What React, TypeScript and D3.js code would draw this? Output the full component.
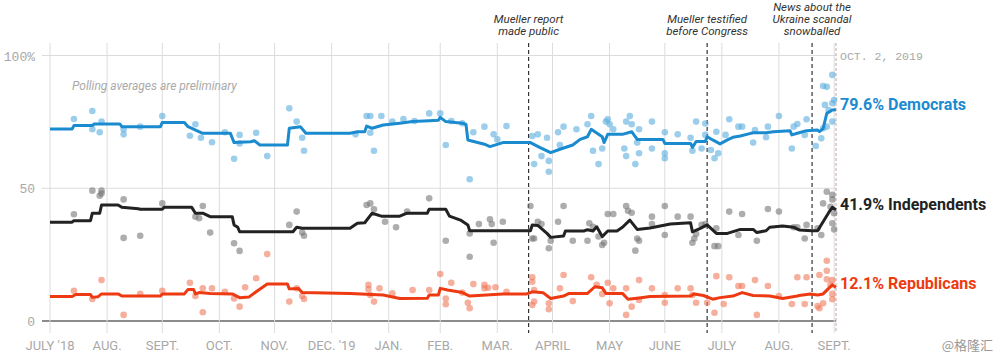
import React from "react";
import * as d3 from "d3";

// ---- DATA ----
// Day offsets counted from START (Aug 1, 2018); values in percent.
const START = new Date(2018, 7, 1);
const END = new Date(2019, 9, 2);

const monthLabels = ["JULY '18", "AUG.", "SEPT.", "OCT.", "NOV.", "DEC. '19", "JAN.", "FEB.", "MAR.", "APRIL", "MAY", "JUNE", "JULY", "AUG.", "SEPT."];
const yTicks = [0, 50, 100];
const yTickLabels = ["0", "50", "100%"];

const events = [
  { day: 260, lines: ["Mueller report", "made public"] },
  { day: 357, lines: ["Mueller testified", "before Congress"] },
  { day: 414, lines: ["News about the", "Ukraine scandal", "snowballed"] },
];

const demLine: [number, number][] = [
  [0, 72.3], [12, 72.3], [13, 73.6], [23, 73.6], [24, 74.2], [38, 74.2], [39, 73.2], [60, 73.2], [61, 74.8], [73, 74.8],
  [75, 73.2], [83, 70.7], [98, 70.7], [100, 67.2], [109, 67.5], [111, 67.9], [114, 66.3], [129, 66.3], [130, 72.6], [136, 73.2],
  [139, 70.7], [163, 70.7], [167, 71.3], [171, 71.3], [172, 73.4], [175, 72.6], [181, 73.8], [190, 74.5], [197, 75.1], [206, 75.4],
  [211, 75.6], [212, 76.7], [215, 75.1], [224, 74.5], [226, 74.0], [227, 68.2], [236, 66.6], [239, 65.7], [246, 67.2], [261, 67.2],
  [266, 65.4], [272, 63.4], [277, 64.7], [284, 66.3], [288, 68.4], [292, 69.4], [294, 72.2], [300, 69.4], [301, 67.2], [303, 70.3],
  [311, 70.3], [316, 71.3], [319, 68.4], [333, 68.4], [334, 66.9], [348, 66.9], [349, 65.4], [351, 67.6], [356, 67.6], [357, 69.4],
  [360, 68.2], [364, 66.7], [368, 68.2], [371, 69.2], [375, 69.7], [379, 70.4], [382, 70.9], [389, 70.9], [393, 71.3], [402, 71.7],
  [403, 70.1], [406, 70.7], [411, 71.7], [417, 71.9], [418, 71.3], [420, 72.5], [422, 78.2], [425, 79.5], [427, 79.6],
];

const indLine: [number, number][] = [
  [0, 37.2], [12, 37.2], [13, 37.8], [22, 37.8], [23, 40.6], [27, 40.6], [28, 43.7], [37, 43.7], [39, 42.8], [48, 42.3],
  [49, 42.1], [61, 42.1], [62, 42.8], [77, 42.8], [79, 40.6], [83, 40.6], [87, 39.3], [99, 39.3], [100, 36.2], [102, 35.3],
  [103, 33.6], [132, 33.6], [134, 35.3], [137, 34.9], [163, 34.9], [167, 36.8], [171, 37.0], [175, 40.6], [180, 39.5], [190, 39.5],
  [194, 40.6], [205, 40.6], [206, 42.1], [215, 42.1], [217, 39.5], [223, 38], [227, 36.2], [228, 34], [261, 34], [262, 36.2],
  [265, 36], [270, 33], [272, 31.5], [279, 32], [280, 33.9], [290, 33.9], [292, 34.4], [295, 33.9], [297, 35.5], [300, 31.8],
  [303, 33.9], [308, 33.9], [311, 35.3], [315, 38], [319, 34.5], [326, 35.0], [337, 36.5], [348, 37], [349, 33.6], [353, 34.8],
  [357, 36.2], [362, 33], [368, 33], [375, 34.5], [382, 34.5], [384, 33.3], [389, 34], [391, 35.3], [398, 35.8], [404, 35.3],
  [407, 34.3], [414, 34], [417, 34], [420, 37.4], [423, 40.8], [425, 42.8], [427, 41.9],
];

const repLine: [number, number][] = [
  [0, 9.2], [12, 9.2], [14, 10.0], [22, 10.0], [23, 8.9], [26, 9.1], [28, 10.2], [37, 10.2], [39, 9.4], [60, 9.4],
  [61, 10.2], [73, 10.2], [75, 11.9], [78, 11.9], [79, 10.2], [81, 10.7], [87, 10.4], [99, 10.2], [103, 8.8], [108, 9.0],
  [112, 11], [118, 13.9], [129, 13.9], [130, 12.1], [135, 12.2], [137, 10.7], [163, 10.4], [181, 9.8], [190, 8.5], [205, 8.6],
  [206, 9.8], [211, 9.8], [212, 12.3], [216, 11.7], [224, 10.7], [228, 9.4], [246, 10.2], [259, 10.2], [262, 11], [268, 10.6],
  [272, 8.5], [279, 9.4], [282, 10.4], [292, 10.4], [296, 12.9], [300, 12.5], [302, 10.4], [311, 10.4], [314, 8.2], [320, 8.7],
  [326, 9.2], [348, 9.4], [350, 10.2], [355, 9.6], [360, 8.2], [364, 8.8], [371, 9.4], [376, 10.7], [382, 9.6], [391, 9.4],
  [398, 8.5], [406, 9.4], [407, 9.6], [413, 10.2], [417, 9.8], [420, 10.2], [423, 12.3], [425, 13.6], [427, 12.6],
];

const demPolls: [number, number][] = [
  [13, 76.1], [23, 79.1], [23, 72.2], [27, 71.1], [28, 75.1], [40, 72.2], [40, 70.3], [49, 73.2], [61, 77.2], [79, 74.1],
  [76, 69.8], [82, 69], [88, 67.3], [95, 71.1], [103, 70.1], [100, 61.1], [103, 66.9], [112, 70.9], [118, 62.1], [130, 80.1],
  [134, 75.1], [137, 69], [138, 64.1], [166, 70.3], [172, 77.2], [174, 77.2], [174, 70.9], [180, 77.2], [176, 64.1], [186, 75.1],
  [192, 76.1], [198, 75.3], [206, 78.2], [212, 78.2], [215, 66.3], [218, 75.3], [224, 74.5], [228, 53.4], [230, 71.1], [236, 73.2],
  [241, 70.3], [243, 68.4], [248, 73.4], [262, 69.7], [265, 70.3], [263, 59.1], [267, 62.1], [270, 69], [271, 60.3], [271, 56.2],
  [276, 71.1], [279, 73.2], [277, 66.3], [286, 72.2], [292, 74.1], [294, 77.2], [295, 64.1], [298, 59.1], [300, 65], [302, 75.1],
  [303, 76], [304, 74.1], [306, 72.2], [312, 65], [313, 62.1], [313, 75.1], [315, 77.2], [316, 74.1], [318, 59.1], [319, 67.2],
  [320, 72.2], [320, 63.2], [327, 75.1], [327, 65], [334, 71.1], [334, 63.2], [334, 61.3], [341, 70.3], [348, 69], [349, 64.1],
  [351, 75.1], [354, 65], [356, 74.4], [356, 70.1], [359, 64.4], [361, 61.3], [362, 71.3], [363, 63.2], [367, 70.1], [369, 76],
  [374, 73.2], [376, 73.2], [382, 67.2], [383, 71.9], [389, 69.2], [390, 73.2], [396, 77.2], [403, 65], [404, 73.2], [406, 74.2],
  [410, 70.1], [411, 76], [416, 65.9], [419, 68.8], [420, 72.6], [421, 81.4], [422, 88.2], [420, 88.5], [425, 92.7], [425, 82],
  [425, 75.1], [426, 83.2], [423, 79.5], [422, 73.2],
];

const indPolls: [number, number][] = [
  [13, 40.2], [23, 49.1], [27, 47.2], [28, 49.1], [28, 48], [40, 45.8], [40, 31.3], [49, 32.1], [61, 44.3], [79, 39.3],
  [81, 38.7], [83, 43.3], [87, 33.3], [100, 29.3], [103, 26.4], [130, 36.2], [134, 41.2], [137, 33.3], [138, 32.1], [172, 43.7],
  [174, 44.3], [176, 42.1], [182, 37.4], [188, 35.3], [194, 41.2], [206, 46.2], [215, 30.2], [228, 33], [228, 24.2], [233, 36.5],
  [239, 38.3], [240, 36.5], [241, 29.5], [246, 37.4], [261, 43.3], [262, 31.1], [263, 31.1], [265, 37.4], [267, 36.5], [271, 27.4],
  [272, 30.2], [276, 37.4], [279, 43.3], [284, 30.2], [292, 30.2], [293, 36.8], [295, 35.5], [298, 31.8], [300, 28.6], [301, 29.5],
  [303, 40.3], [306, 40.3], [313, 43.3], [314, 41.5], [316, 40.8], [318, 26.5], [319, 31.1], [320, 30.2], [327, 39.3], [327, 36.5],
  [334, 43.3], [334, 32.4], [341, 39.3], [348, 39.3], [349, 29.5], [350, 31.1], [351, 32.8], [354, 36.2], [356, 36.5], [361, 28.2],
  [363, 28.2], [362, 34.9], [369, 41.2], [374, 32.4], [376, 40.3], [384, 30.2], [390, 42.2], [396, 41.2], [404, 35.3], [406, 35.3],
  [410, 31.1], [411, 36.2], [417, 34.9], [419, 32.4], [420, 44.3], [422, 48.7], [425, 45.8], [425, 47.5], [425, 36.8], [426, 34.5],
  [426, 40.6], [424, 43],
];

const repPolls: [number, number][] = [
  [13, 11.4], [23, 8.3], [28, 15.4], [40, 2.3], [49, 10.2], [61, 11.4], [76, 14.4], [79, 9.4], [83, 12.3], [83, 3.3],
  [88, 12.3], [95, 11], [100, 8.5], [103, 5.4], [106, 12.7], [112, 16.1], [118, 25.2], [130, 7.3], [134, 12.3], [137, 9.4],
  [138, 8.3], [173, 13.6], [173, 12.0], [174, 9.8], [176, 7.3], [179, 12.3], [186, 10.4], [197, 11.7], [206, 11.7], [212, 17.7],
  [215, 8.5], [215, 6.3], [218, 14.4], [224, 10.7], [227, 6.9], [228, 4.8], [230, 13.9], [236, 13.6], [236, 12.3], [238, 12.5],
  [242, 12.7], [248, 11], [262, 16.5], [262, 14.8], [263, 11.7], [263, 7.3], [262, 6], [271, 6.7], [271, 4.4], [277, 12.3],
  [279, 17.3], [284, 7.5], [294, 16.5], [297, 13.6], [300, 10.2], [303, 14.4], [304, 6.7], [306, 12.3], [313, 12.3], [313, 2.3],
  [316, 5.4], [320, 15.4], [320, 7.9], [327, 12.3], [334, 9.8], [334, 6.9], [341, 12.3], [348, 12.3], [349, 9.8], [351, 6.9],
  [357, 6.9], [361, 3.1], [362, 16.9], [369, 16.5], [366, 6.4], [374, 13.2], [376, 13.2], [383, 15.4], [384, 2.3], [390, 13.2],
  [396, 9.4], [403, 6.4], [406, 16.5], [410, 6.4], [411, 16.5], [417, 5.6], [418, 4.8], [420, 6.7], [422, 22.7], [422, 18.9],
  [422, 15.7], [425, 15.4], [424, 13.6], [425, 10.2], [425, 8.2], [418, 17.3],
];

const seriesNames = ["Democrats", "Independents", "Republicans"];
const finalValues = [79.6, 41.9, 12.1];
const lineColors = ["#1b8bd0", "#222222", "#ee3a12"];
const dotColors = ["#5aaee0", "#777777", "#f07a5a"];
const endDateLabel = "OCT. 2, 2019";

// ---- CHART ----
export default function App() {
  const W = 1000, H = 362;
  const x = d3.scaleTime().domain([START, END]).range([50, 836]);
  const y = d3.scaleLinear().domain([0, 100]).range([321, 55.5]);
  const day = (d: number) => d3.timeDay.offset(START, d);
  const line = d3.line<[number, number]>().x((d) => x(day(d[0]))).y((d) => y(d[1]));

  const months = d3.timeMonth.range(START, END);
  const lines = [demLine, indLine, repLine];
  const polls = [demPolls, indPolls, repPolls];
  const gridTop = 43;
  const gridBottom = 333;
  const x0 = 42;
  const x1 = x(END);

  return (
    <svg width={W} height={H} style={{ position: "absolute", left: 0, top: 0, background: "#fff" }}>
      {/* horizontal gridlines */}
      {yTicks.map((t, i) => (
        <g key={"y" + t}>
          <line x1={x0} x2={x1} y1={y(t)} y2={y(t)} stroke={t === 0 ? "#666" : "#dcdcdc"} strokeWidth={t === 0 ? 1.5 : 1} />
          <text x={35} y={y(t) + 5} textAnchor="end" fontFamily="'Liberation Mono', monospace" fontSize={13} fill="#a8a8a8">
            {yTickLabels[i]}
          </text>
        </g>
      ))}
      {/* vertical month gridlines */}
      {months.map((m, i) => (
        <g key={"m" + i}>
          <line x1={x(m)} x2={x(m)} y1={gridTop} y2={gridBottom} stroke="#dcdcdc" strokeWidth={1} />
          <text x={x(m)} y={350} textAnchor="middle" fontFamily="'Liberation Sans Narrow', 'Roboto', sans-serif" fontSize={13} fill="#a8a8a8">
            {monthLabels[i]}
          </text>
        </g>
      ))}
      {/* end line */}
      <line x1={x1} x2={x1} y1={gridTop} y2={gridBottom} stroke="#c9a3a3" strokeWidth={1} strokeDasharray="3,2" />
      <text x={x1 + 4} y={60} fontFamily="'Liberation Mono', monospace" fontSize={11.5} fill="#a8a8a8">
        {endDateLabel}
      </text>

      <text x={72} y={90} fontFamily="Roboto, sans-serif" fontStyle="italic" fontSize={12} fill="#aaa">
        Polling averages are preliminary
      </text>

      {/* events */}
      {events.map((e, i) => {
        const ex = x(day(e.day));
        const n = e.lines.length;
        return (
          <g key={"e" + i}>
            <line x1={ex} x2={ex} y1={gridTop} y2={gridBottom} stroke="#333" strokeWidth={1.2} strokeDasharray="4,3" />
            {e.lines.map((t, j) => (
              <text key={j} x={ex} y={35 - (n - 1 - j) * 12} textAnchor="middle" fontFamily="Roboto, sans-serif" fontStyle="italic" fontSize={11.5} fill="#333">
                {t}
              </text>
            ))}
          </g>
        );
      })}

      {/* polls */}
      {polls.map((ps, s) => (
        <g key={"p" + s} fill={dotColors[s]} fillOpacity={0.6}>
          {ps.map((p, i) => (
            <circle key={i} cx={x(day(p[0]))} cy={y(p[1])} r={3.3} />
          ))}
        </g>
      ))}

      {/* averages */}
      {lines.map((l, s) => (
        <path key={"l" + s} d={line(l) || ""} fill="none" stroke={lineColors[s]} strokeWidth={3} strokeLinejoin="round" />
      ))}

      {/* end labels */}
      {seriesNames.map((n, s) => (
        <text key={"lab" + s} x={x1 + 4} y={y(finalValues[s]) + 0.5} fontFamily="Roboto, sans-serif" fontWeight={700} fontSize={16} fill={lineColors[s]}>
          {finalValues[s].toFixed(1)}% {n}
        </text>
      ))}

      <text x={993} y={350} textAnchor="end" fontFamily="'Noto Sans CJK SC', sans-serif" fontSize={13} fill="#999">
        @格隆汇
      </text>
    </svg>
  );
}
